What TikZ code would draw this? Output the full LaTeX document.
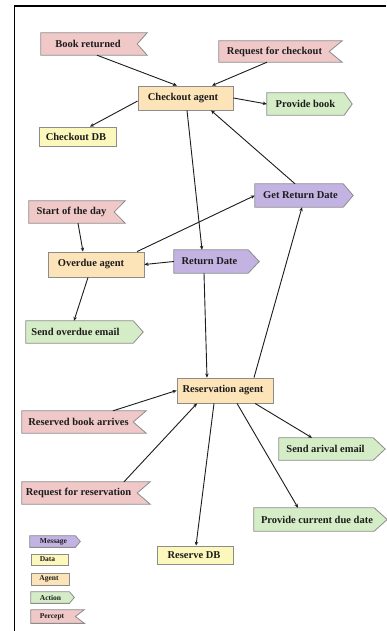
\documentclass[tikz,border=0pt]{standalone}
\usepackage{fontspec}
\setmainfont{Liberation Serif}
\usetikzlibrary{arrows.meta,backgrounds}

\definecolor{perceptfill}{HTML}{F0C8C8}
\definecolor{agentfill}{HTML}{FDE3B8}
\definecolor{datafill}{HTML}{FCF7BA}
\definecolor{actionfill}{HTML}{D5EDC6}
\definecolor{msgfill}{HTML}{C3B3E3}
\definecolor{edgegray}{HTML}{8C8C8C}
\definecolor{ink}{HTML}{1C1C1C}

\tikzset{
  box/.style={rectangle, text=ink, inner sep=0pt,
    font=\bfseries\fontsize{10.5}{12}\selectfont},
  % move the label left by #1 without changing its box width
  nudge/.style={execute at begin node={\hspace*{-#1}},
                execute at end node={\hspace*{#1}}},
  agent/.style={box, draw=edgegray, line width=0.8pt, fill=agentfill},
  data/.style={box, draw=edgegray, line width=0.8pt, fill=datafill},
  action/.style={box},
  message/.style={box},
  percept/.style={box},
  small/.style={font=\bfseries\fontsize{7.5}{9}\selectfont, line width=0.7pt},
  outline/.style={draw=edgegray, line width=0.8pt},
  conn/.style={draw=ink, line width=0.9pt,
    -{Stealth[length=4pt,width=3.5pt]}},
  frame/.style={draw=black, line width=1.6pt}
}

% percept: banner with a notch cut into its right end
\newcommand\perceptshape[2]{%
  \path[outline, fill=perceptfill] (#1.north west) -- (#1.north east)
    -- ([xshift=-#2]#1.east) -- (#1.south east) -- (#1.south west) -- cycle;}
% action / message: box ending in a point on the right
\newcommand\pointshape[3]{%
  \path[outline, fill=#3] (#1.north west) -- ([xshift=-#2]#1.north east)
    -- (#1.east) -- ([xshift=-#2]#1.south east) -- (#1.south west) -- cycle;}

\begin{document}
\begin{tikzpicture}[x=1pt,y=-1pt]
\useasboundingbox (0,0) rectangle (387,631);

% checkout side
\node[percept, nudge=6pt, minimum width=106pt, minimum height=22pt] (br) at (94,44) {Book returned};
\node[percept, nudge=6pt, minimum width=123pt, minimum height=21pt] (rfc) at (280.5,51.5) {Request for checkout};
\node[agent, nudge=2.5pt, minimum width=95pt, minimum height=24pt] (ca) at (185.5,98) {Checkout agent};
\node[action, nudge=4pt, minimum width=85pt, minimum height=22pt] (pb) at (309.5,104) {Provide book};
\node[data, nudge=1.5pt, minimum width=77pt, minimum height=19pt] (cdb) at (77.5,136.5) {Checkout DB};

% overdue side
\node[message, nudge=3.5pt, minimum width=98pt, minimum height=23pt] (grd) at (304,195.5) {Get Return Date};
\node[percept, nudge=5.5pt, minimum width=96pt, minimum height=22pt] (sod) at (77,212) {Start of the day};
\node[agent, nudge=5pt, minimum width=96pt, minimum height=25pt] (oa) at (96,264.5) {Overdue agent};
\node[message, nudge=7pt, minimum width=85pt, minimum height=23pt] (rd) at (216.5,261.5) {Return Date};
\node[action, nudge=9pt, minimum width=117pt, minimum height=22pt] (soe) at (84.5,332) {Send overdue email};

% reservation side
\node[agent, nudge=2pt, minimum width=96pt, minimum height=25pt] (ra) at (225,390.5) {Reservation agent};
\node[percept, nudge=5.5pt, minimum width=124pt, minimum height=22pt] (rba) at (84,422) {Reserved book arrives};
\node[action, nudge=6.5pt, minimum width=106pt, minimum height=22pt] (sae) at (332,449) {Send arival email};
\node[percept, nudge=7.5pt, minimum width=128pt, minimum height=22pt] (rfr) at (86,493) {Request for reservation};
\node[action, nudge=3.5pt, minimum width=133pt, minimum height=23pt] (pcdd) at (320.5,519.5) {Provide current due date};
\node[data, nudge=1pt, minimum width=76pt, minimum height=18pt] (rdb) at (195,555) {Reserve DB};

% legend
\node[message, small, nudge=1.5pt, minimum width=50pt, minimum height=11pt] (lmsg) at (55,541.5) {Message};
\node[data, small, nudge=2pt, minimum width=37pt, minimum height=11pt] (ldata) at (49.5,559.5) {Data};
\node[agent, small, nudge=1pt, minimum width=38pt, minimum height=12pt] (lagent) at (50,579) {Agent};
\node[action, small, nudge=2pt, minimum width=43pt, minimum height=11pt] (laction) at (52.5,597.5) {Action};
\node[percept, small, nudge=5.5pt, minimum width=53pt, minimum height=13pt] (lpercept) at (57.5,616.5) {Percept};

% shaped outlines behind the labels
\begin{pgfonlayer}{background}
  \fill[white] (0,0) rectangle (387,631);
  \perceptshape{br}{10pt}
  \perceptshape{rfc}{13pt}
  \perceptshape{sod}{11pt}
  \perceptshape{rba}{13pt}
  \perceptshape{rfr}{13pt}
  \perceptshape{lpercept}{9pt}
  \pointshape{pb}{8pt}{actionfill}
  \pointshape{soe}{10pt}{actionfill}
  \pointshape{sae}{12pt}{actionfill}
  \pointshape{pcdd}{13pt}{actionfill}
  \pointshape{laction}{5pt}{actionfill}
  \pointshape{grd}{10pt}{msgfill}
  \pointshape{rd}{11pt}{msgfill}
  \pointshape{lmsg}{5pt}{msgfill}
\end{pgfonlayer}

% outer frame (top and left edges)
\coordinate (ftr) at (386,6);
\coordinate (ftl) at (14.5,6);
\coordinate (fbl) at (14.5,631);
\draw[frame] (ftr) -- (ftl) -- (fbl);

% connectors
\draw[conn] ([xshift=3pt]br.south) -- ([xshift=-8.5pt]ca.north);
\draw[conn] ([xshift=-13.5pt]rfc.south) -- ([xshift=26.5pt]ca.north);
\draw[conn] (ca.east) -- (pb.west);
\draw[conn] ([yshift=-3pt]ca.west) -- ([xshift=12.5pt]cdb.north);
\draw[conn] ([xshift=1.5pt]ca.south) -- ([xshift=-14.5pt]rd.north);
\draw[conn] ([xshift=-9pt]grd.north) -- ([xshift=25.5pt]ca.south);
\draw[conn] ([xshift=1pt]sod.south) -- ([xshift=-13pt]oa.north);
\draw[conn] ([xshift=41pt]oa.north) -- (grd.west);
\draw[conn] (rd.west) -- (oa.east);
\draw[conn] ([xshift=-8pt]oa.south) -- ([xshift=-10.5pt]soe.north);
\draw[conn] ([xshift=-12.5pt]rd.south) -- ([xshift=-18pt]ra.north);
\draw[conn] ([xshift=29pt]ra.north) -- ([xshift=-2pt]grd.south);
\draw[conn] ([xshift=29pt]rba.north) -- (ra.west);
\draw[conn] ([xshift=38pt]rfr.north) -- ([xshift=-28pt]ra.south);
\draw[conn] ([xshift=30pt]ra.south) -- ([xshift=-20pt]sae.north);
\draw[conn] ([xshift=12pt]ra.south) -- ([xshift=-22.5pt]pcdd.north);
\draw[conn] ([xshift=-11pt]ra.south) -- ([xshift=1pt]rdb.north);
\end{tikzpicture}
\end{document}
